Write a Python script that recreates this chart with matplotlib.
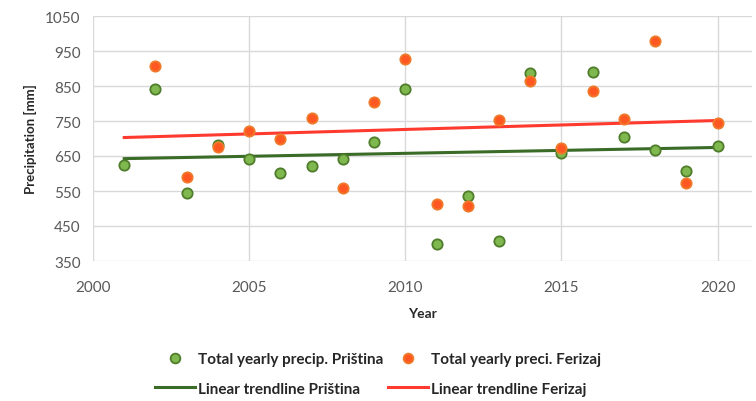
import numpy as np
import matplotlib
matplotlib.use("Agg")
import matplotlib.pyplot as plt
from matplotlib.lines import Line2D

plt.rcParams['font.family'] = ['Lato', 'DejaVu Sans']

years_pristina = [2001, 2002, 2003, 2004, 2005, 2006, 2007, 2008, 2009, 2010,
                  2011, 2012, 2013, 2014, 2015, 2016, 2017, 2018, 2019, 2020]
precip_pristina = [625, 842, 543, 682, 641, 602, 622, 641, 691, 842,
                   400, 536, 407, 887, 658, 891, 705, 667, 608, 679]

years_ferizaj = [2002, 2003, 2004, 2005, 2006, 2007, 2008, 2009, 2010,
                 2011, 2012, 2013, 2014, 2015, 2016, 2017, 2018, 2019, 2020]
precip_ferizaj = [908, 589, 675, 722, 698, 759, 559, 805, 927,
                  514, 506, 754, 863, 674, 835, 756, 979, 574, 743]

trend_range = [2001, 2020]
x_ticks = [2000, 2005, 2010, 2015, 2020]
y_ticks = [350, 450, 550, 650, 750, 850, 950, 1050]

labels = ["Total yearly precip. Priština", "Total yearly preci. Ferizaj",
          "Linear trendline Priština", "Linear trendline Ferizaj"]

green_fill = "#7FB84E"
green_edge = "#4F7D2C"
red_fill = "#FF5722"
red_edge = "#F07A2A"
green_line = "#3A6B27"
red_line = "#FF3B30"

fig = plt.figure(figsize=(7.56, 4.02), dpi=100)
ax = fig.add_axes([93/756, 1 - 262/402, (752-93)/756, (262-17)/402])

ax.set_xlim(2000, 2021.1)
ax.set_ylim(350, 1050)
ax.set_xticks(x_ticks)
ax.set_yticks(y_ticks)
ax.grid(True, color="#D9D9D9", linewidth=1.0, zorder=0)
for s in ax.spines.values():
    s.set_visible(False)
ax.tick_params(axis='x', length=0, labelsize=11, colors="#595959", pad=14)
ax.tick_params(axis='y', length=0, labelsize=11, colors="#595959", pad=9)

# trendlines
xt = np.array(trend_range, dtype=float)
pg = np.polyfit(years_pristina, precip_pristina, 1)
pf = np.polyfit(years_ferizaj, precip_ferizaj, 1)
ax.plot(xt, np.polyval(pg, xt), color=green_line, lw=2.2, zorder=2)
ax.plot(xt, np.polyval(pf, xt), color=red_line, lw=2.2, zorder=2)

ax.scatter(years_pristina, precip_pristina, s=55, c=green_fill,
           edgecolors=green_edge, linewidths=1.3, zorder=3)
ax.scatter(years_ferizaj, precip_ferizaj, s=55, c=red_fill,
           edgecolors=red_edge, linewidths=1.3, zorder=4)

ax.set_xlabel("Year", fontsize=10, fontweight="bold", color="#262626", labelpad=9)
ax.set_ylabel("Precipitation [mm]", fontsize=9.5, fontweight="bold", color="#262626", labelpad=6)

h_gs = Line2D([], [], ls="none", marker="o", ms=7, mfc=green_fill, mec=green_edge, mew=1.3)
h_rs = Line2D([], [], ls="none", marker="o", ms=7, mfc=red_fill, mec=red_edge, mew=1.3)
h_gl = Line2D([], [], color=green_line, lw=2.2)
h_rl = Line2D([], [], color=red_line, lw=2.2)
# column-wise fill: col1 = Priština items, col2 = Ferizaj items
handles = [h_gs, h_gl, h_rs, h_rl]
labs = [labels[0], labels[2], labels[1], labels[3]]
leg = fig.legend(handles, labs, loc="center", bbox_to_anchor=(0.5, 1 - 375/402),
                 ncol=2, frameon=False, handlelength=2.6,
                 columnspacing=0.35, handletextpad=0.2, labelspacing=1.0,
                 borderpad=0.1, prop={'weight': 'bold', 'size': 11})
for t in leg.get_texts():
    t.set_color("#262626")

fig.savefig("out.png", dpi=100)
